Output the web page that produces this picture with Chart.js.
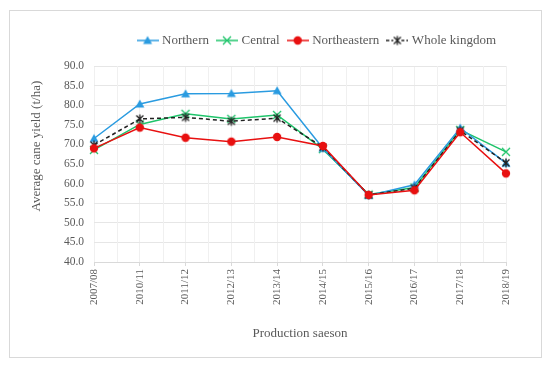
<!DOCTYPE html>
<html>
<head>
<meta charset="utf-8">
<script src="https://cdn.jsdelivr.net/npm/chart.js@4/dist/chart.umd.min.js"></script>
<style>
  html, body { margin: 0; padding: 0; background: #fff; }
  #wrap { width: 550px; height: 365px; }
</style>
</head>
<body>
<div id="wrap"><canvas id="chart1" width="550" height="365"></canvas></div>
<script>
// seasons and yields (t/ha)
var seasons = ["2007/08", "2010/11", "2011/12", "2012/13", "2013/14", "2014/15", "2015/16", "2016/17", "2017/18", "2018/19"];
var northern = [71.5, 80.3, 82.9, 83.0, 83.7, 69.0, 57.0, 59.7, 74.2, 65.2];
var central = [68.6, 75.1, 77.8, 76.5, 77.5, 68.8, 57.2, 59.0, 73.7, 68.1];
var northeastern = [69.0, 74.3, 71.7, 70.7, 71.9, 69.6, 57.1, 58.3, 73.1, 62.6];
var wholeKingdom = [69.8, 76.5, 76.9, 75.9, 76.7, 69.3, 57.1, 58.8, 73.5, 65.3];

var FONT = "'Liberation Serif', serif";
var TXT = "#595959";

// small canvases used as point markers
function marker(kind, color, w, withLine, dashed) {
  var c = document.createElement("canvas");
  c.width = w; c.height = 12;
  var g = c.getContext("2d");
  var cx = w / 2, cy = 6;
  if (withLine) {
    g.strokeStyle = color;
    g.lineWidth = 1.5;
    if (dashed) g.setLineDash([3, 2]);
    g.beginPath(); g.moveTo(0, cy); g.lineTo(w, cy); g.stroke();
    g.setLineDash([]);
  }
  g.fillStyle = color;
  g.strokeStyle = color;
  g.lineWidth = 1.3;
  if (kind == "tri") {
    g.beginPath(); g.moveTo(cx, cy - 4.5); g.lineTo(cx + 4.5, cy + 3.5); g.lineTo(cx - 4.5, cy + 3.5); g.closePath(); g.fill();
  } else if (kind == "circ") {
    g.beginPath(); g.arc(cx, cy, 4.2, 0, Math.PI * 2); g.fill();
  } else if (kind == "x") {
    g.beginPath();
    g.moveTo(cx - 4, cy - 4); g.lineTo(cx + 4, cy + 4);
    g.moveTo(cx + 4, cy - 4); g.lineTo(cx - 4, cy + 4);
    g.stroke();
  } else if (kind == "star") {
    if (withLine) { g.fillStyle = "#fff"; g.fillRect(cx - 4, 0, 8, 12); }
    g.beginPath();
    g.moveTo(cx - 3.5, cy - 3.5); g.lineTo(cx + 3.5, cy + 3.5);
    g.moveTo(cx + 3.5, cy - 3.5); g.lineTo(cx - 3.5, cy + 3.5);
    g.moveTo(cx, cy - 4.5); g.lineTo(cx, cy + 4.5);
    g.stroke();
  }
  return c;
}

var series = [
  { label: "Northern", data: northern, color: "#2a9be0", kind: "tri", dash: false, order: 2 },
  { label: "Central", data: central, color: "#1ec46a", kind: "x", dash: false, order: 3 },
  { label: "Northeastern", data: northeastern, color: "#e81010", kind: "circ", dash: false, order: 0 },
  { label: "Whole kingdom", data: wholeKingdom, color: "#222222", kind: "star", dash: true, order: 1 }
];

var datasets = series.map(function (s) {
  return {
    label: s.label,
    data: s.data,
    borderColor: s.color,
    backgroundColor: s.color,
    borderWidth: 1.5,
    borderDash: s.dash ? [4, 3] : [],
    pointStyle: marker(s.kind, s.color, 12, false),
    legendImg: marker(s.kind, s.color, 22, true, s.dash),
    pointRadius: 5,
    tension: 0,
    order: s.order
  };
});

var frame = {
  id: "frame",
  beforeDraw: function (chart) {
    var ctx = chart.ctx;
    ctx.save();
    ctx.fillStyle = "#fff";
    ctx.fillRect(0, 0, chart.width, chart.height);
    ctx.strokeStyle = "#d9d9d9";
    ctx.lineWidth = 1;
    ctx.strokeRect(9.5, 10.5, 532, 347);
    ctx.restore();
  },
  beforeDatasetsDraw: function (chart) {
    // faint lines half way between the seasons
    var xs = chart.scales.x, a = chart.chartArea, ctx = chart.ctx;
    ctx.save();
    ctx.strokeStyle = "#f0f0f0";
    ctx.lineWidth = 1;
    for (var i = 0; i < seasons.length - 1; i++) {
      var px = Math.round((xs.getPixelForValue(i) + xs.getPixelForValue(i + 1)) / 2) + 0.5;
      ctx.beginPath(); ctx.moveTo(px, a.top); ctx.lineTo(px, a.bottom); ctx.stroke();
    }
    ctx.restore();
  }
};

new Chart(document.getElementById("chart1"), {
  type: "line",
  data: { labels: seasons, datasets: datasets },
  plugins: [frame],
  options: {
    responsive: false,
    animation: false,
    layout: { padding: { top: 24, left: 25, right: 44, bottom: 20 } },
    plugins: {
      tooltip: { enabled: false },
      legend: {
        position: "top",
        align: "end",
        labels: {
          font: { family: FONT, size: 13 },
          color: TXT,
          usePointStyle: true,
          pointStyleWidth: 16,
          boxHeight: 12,
          padding: 10,
          generateLabels: function (chart) {
            return chart.data.datasets.map(function (d, i) {
              return {
                text: d.label,
                pointStyle: d.legendImg,
                fillStyle: d.borderColor,
                strokeStyle: d.borderColor,
                lineWidth: 0,
                fontColor: TXT,
                datasetIndex: i,
                hidden: false
              };
            });
          }
        }
      }
    },
    scales: {
      x: {
        offset: false,
        grid: { color: "#f0f0f0", tickLength: 4, tickColor: "#d9d9d9" },
        border: { color: "#d9d9d9" },
        ticks: { font: { family: FONT, size: 11 }, color: TXT, minRotation: 90, maxRotation: 90, padding: 3 },
        title: { display: true, text: "Production saeson", font: { family: FONT, size: 13 }, color: TXT, padding: { top: 14 } },
        afterFit: function (s) { s.height = 83; }
      },
      // empty strip between legend and plot
      gap: {
        type: "category",
        axis: "x",
        position: "top",
        grid: { display: false },
        border: { display: false },
        ticks: { display: false },
        afterFit: function (s) { s.height = 9; }
      },
      y: {
        min: 40,
        max: 90,
        grid: { color: "#e6e6e6", drawTicks: false },
        border: { display: false },
        ticks: {
          stepSize: 5,
          font: { family: FONT, size: 11.5 },
          color: TXT,
          padding: 10,
          callback: function (v) { return v.toFixed(1); }
        },
        title: { display: true, text: "           Average cane yield (t/ha)", font: { family: FONT, size: 13 }, color: TXT },
        afterFit: function (s) { s.width = 69; }
      }
    }
  }
});
</script>
</body>
</html>
